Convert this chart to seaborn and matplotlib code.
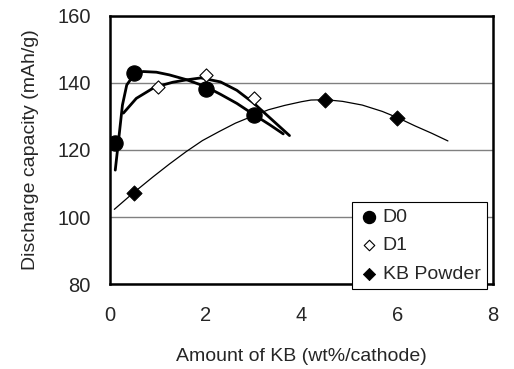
import pandas as pd
import numpy as np
import matplotlib
matplotlib.use("Agg")
import matplotlib.pyplot as plt
import seaborn as sns

# measured points
d0_x = [0.1, 0.5, 2.0, 3.0]
d0_y = [122.2, 143.0, 138.2, 130.4]
d1_x = [1.0, 2.0, 3.0]
d1_y = [138.8, 142.3, 135.4]
kb_x = [0.5, 4.5, 6.0]
kb_y = [107.2, 135.0, 129.6]

# trend curves
d0_fit_x = [0.11, 0.18, 0.26, 0.35, 0.49, 0.69, 0.97, 1.24, 1.59, 2.0, 2.31, 2.65, 3.0, 3.34, 3.62]
d0_fit_y = [114.0, 123.0, 133.4, 139.4, 142.2, 143.4, 143.2, 142.4, 141.0, 138.9, 136.6, 133.9, 130.6, 127.5, 124.8]
d1_fit_x = [0.28, 0.55, 0.93, 1.31, 1.59, 1.9, 2.31, 2.65, 3.0, 3.34, 3.75]
d1_fit_y = [131.0, 135.4, 138.7, 140.2, 140.9, 141.5, 140.3, 137.8, 134.0, 129.6, 124.3]
kb_fit_x = [0.09, 0.47, 0.9, 1.24, 1.59, 1.93, 2.28, 2.62, 2.96, 3.31, 3.65, 4.0, 4.2, 4.51, 4.86,
            5.27, 5.69, 6.03, 6.37, 6.72, 7.06]
kb_fit_y = [102.3, 107.0, 112.0, 115.8, 119.5, 122.8, 125.5, 128.0, 130.0, 132.0, 133.3, 134.4, 134.9,
            135.0, 134.5, 133.4, 131.5, 129.5, 127.2, 125.0, 122.7]

sns.set_style("white")
plt.rcParams['font.family'] = ['Liberation Sans', 'DejaVu Sans']

fig = plt.figure(figsize=(5.14, 3.69), dpi=100)
ax = fig.add_axes([0.214, 0.230, 0.745, 0.727])

for x, y, lw in [(d0_fit_x, d0_fit_y, 2.0), (d1_fit_x, d1_fit_y, 2.0), (kb_fit_x, kb_fit_y, 0.9)]:
    sns.lineplot(x=x, y=y, sort=False, estimator=None, color='black', lw=lw, ax=ax)

sns.scatterplot(x=d0_x, y=d0_y, marker='o', s=120, color='black', edgecolor='black',
                label='D0', ax=ax, zorder=5)
sns.scatterplot(x=d1_x, y=d1_y, marker='D', s=45, color='white', edgecolor='black', linewidth=0.8,
                label='D1', ax=ax, zorder=5)
sns.scatterplot(x=kb_x, y=kb_y, marker='D', s=60, color='black', edgecolor='black',
                label='KB Powder', ax=ax, zorder=5)

ax.set_xlim(0, 8)
ax.set_ylim(80, 160)
ax.set_xticks([0, 2, 4, 6, 8])
ax.set_yticks([80, 100, 120, 140, 160])
ax.yaxis.grid(True, color='#808080', lw=1.0)
ax.set_axisbelow(True)
for s in ax.spines.values():
    s.set_color('black')
    s.set_linewidth(1.8)
ax.tick_params(axis='x', direction='in', length=4, width=1, labelsize=14.5, pad=16, color='black')
ax.tick_params(axis='y', direction='out', length=3, width=1, labelsize=14.5, pad=11, color='black')
ax.set_xlabel('Amount of KB (wt%/cathode)', fontsize=14, labelpad=16)
ax.set_ylabel('Discharge capacity (mAh/g)', fontsize=14, labelpad=13)

leg = ax.legend(loc='lower right', bbox_to_anchor=(0.985, -0.02), fontsize=14, frameon=True,
                fancybox=False, edgecolor='black', framealpha=1, handletextpad=0.2,
                borderpad=0.35, labelspacing=0.55, handlelength=1.0, borderaxespad=0,
                markerscale=0.8)
leg.get_frame().set_linewidth(0.8)
leg.set_zorder(10)

fig.savefig('out.png', dpi=100)
